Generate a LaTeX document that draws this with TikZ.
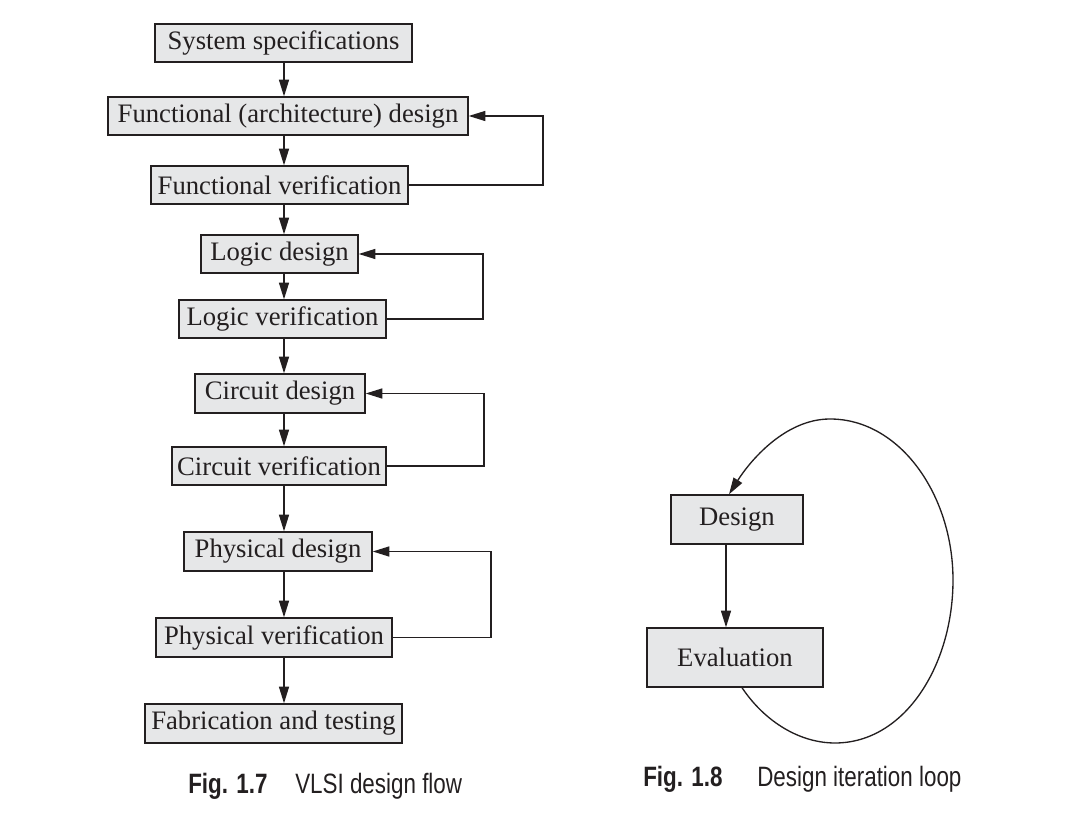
\documentclass[tikz,border=0pt]{standalone}
\usepackage{fontspec}
\setmainfont{Liberation Serif}
\newfontfamily\capfont[FakeStretch=0.8]{Liberation Sans}
\usetikzlibrary{arrows.meta}
\definecolor{ink}{HTML}{231F20}
\definecolor{boxfill}{HTML}{E6E7E8}
\tikzset{
  pbox/.style={draw=ink, fill=boxfill, line width=1pt, inner sep=0pt, text=ink,
    font=\fontsize{20}{24}\selectfont},
  wh/.style 2 args={minimum width=#1*0.75pt, minimum height=#2*0.75pt},
  arr/.style={draw=ink, line width=1pt, -{Triangle[length=12.5pt,width=7.5pt]}},
  capt/.style={anchor=base west, inner sep=0pt, text=ink, font=\capfont\fontsize{21}{25}\selectfont}
}
\begin{document}
\begin{tikzpicture}[x=0.75pt, y=-0.75pt]
\useasboundingbox (0,0) rectangle (1082,837);
% flow nodes
\node[pbox, wh={257}{38}] (ss) at (283.5,43) {System specifications};
\node[pbox, wh={360}{38}] (fd) at (288,116) {Functional (architecture) design};
\node[pbox, wh={257}{38}] (fv) at (279.5,185) {Functional verification};
\node[pbox, wh={157}{38}] (ld) at (279.5,254) {Logic design};
\node[pbox, wh={207}{38}] (lv) at (282.5,319) {Logic verification};
\node[pbox, wh={170}{39}] (cd) at (280,393.5) {Circuit design};
\node[pbox, wh={214}{38}] (cv) at (279,466) {Circuit verification};
\node[pbox, wh={188}{39}] (pd) at (278,551.5) {Physical design};
\node[pbox, wh={236}{39}] (pv) at (274,637.5) {Physical verification};
\node[pbox, wh={257}{39}] (ft) at (273.5,723.5) {Fabrication and testing};
\coordinate (ax) at (284,0);
\draw[arr] (ss.south -| ax) -- (fd.north -| ax);
\draw[arr] (fd.south -| ax) -- (fv.north -| ax);
\draw[arr] (fv.south -| ax) -- (ld.north -| ax);
\draw[arr] (ld.south -| ax) -- (lv.north -| ax);
\draw[arr] (lv.south -| ax) -- (cd.north -| ax);
\draw[arr] (cd.south -| ax) -- (cv.north -| ax);
\draw[arr] (cv.south -| ax) -- (pd.north -| ax);
\draw[arr] (pd.south -| ax) -- (pv.north -| ax);
\draw[arr] (pv.south -| ax) -- (ft.north -| ax);
% feedback loops
\coordinate (l1) at (543,0);
\coordinate (l2) at (483,0);
\coordinate (l3) at (484,0);
\coordinate (l4) at (491,0);
\draw[arr] (fv.east) -- (fv.east -| l1) |- (fd.east);
\draw[arr] (lv.east) -- (lv.east -| l2) |- (ld.east);
\draw[arr] (cv.east) -- (cv.east -| l3) |- (cd.east);
\draw[arr] (pv.east) -- (pv.east -| l4) |- (pd.east);
% iteration loop
\node[pbox, wh={132}{49}] (de) at (737,519.5) {Design};
\node[pbox, wh={176}{59}] (ev) at (735,657.5) {Evaluation};
\coordinate (dx) at (726,0);
\coordinate (sx) at (742,0);
\coordinate (ex) at (729,0);
\draw[arr] (de.south -| dx) -- (ev.north -| dx);
\draw[arr] (ev.south -| sx) .. controls (765,722) and (800,743) .. (835,743)
  .. controls (905,743) and (953,665) .. (953,580)
  .. controls (953,495) and (900,419) .. (830,419)
  .. controls (785,419) and (750,461) .. (de.north -| ex);
% captions
\node[capt] (c7a) at (188,793) {\bfseries Fig. 1.7};
\node[capt] (c7b) at (295,793) {VLSI design flow};
\node[capt] (c8a) at (643,786) {\bfseries Fig. 1.8};
\node[capt] (c8b) at (757,786) {Design iteration loop};
\end{tikzpicture}
\end{document}
